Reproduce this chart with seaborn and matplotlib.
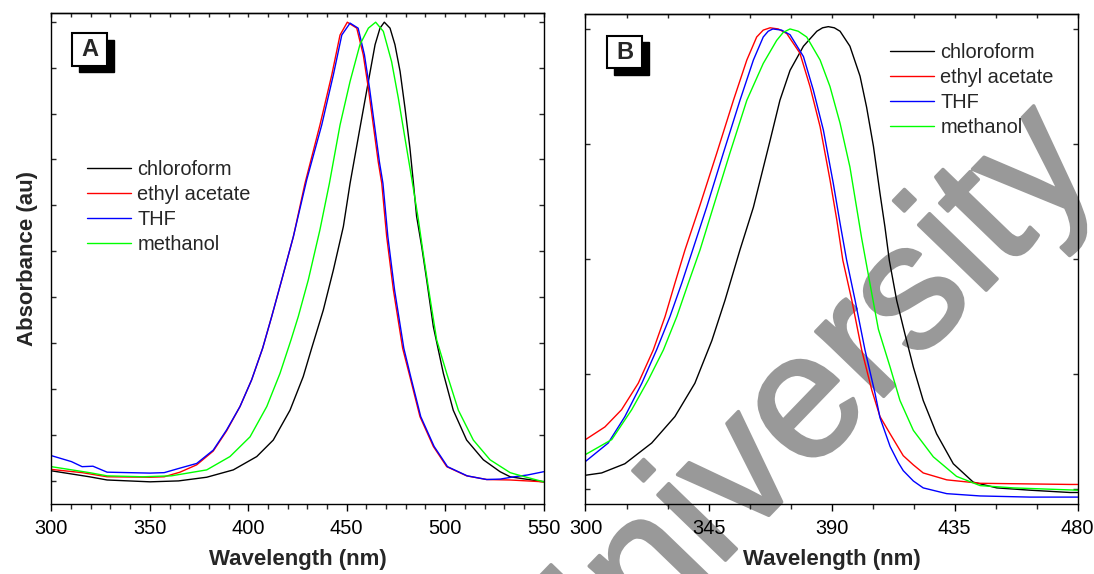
import matplotlib
matplotlib.use("Agg")
import numpy as np
import pandas as pd
import seaborn as sns
import matplotlib.pyplot as plt
import matplotlib.patheffects as pe
from matplotlib.lines import Line2D
from matplotlib.patches import Rectangle
from matplotlib.ticker import MultipleLocator

# ---------------- data ----------------
solvents = ["chloroform", "ethyl acetate", "THF", "methanol"]
colors = ["#000000", "#ff0000", "#0000ff", "#00ff00"]

# Panel A
a_chloroform_wl = [300, 319.3, 328.3, 350.1, 364.6, 378.9, 392.4, 404.3, 412.7, 421.2, 427.9, 432.2, 438.1, 443.2,
                   448.3, 451.7, 456.7, 461.0, 464.4, 466.9, 469.1, 472.0, 474.5, 477.1, 479.6, 482.1, 483.8, 485.5,
                   488.1, 490.6, 494.0, 499.1, 504.1, 510.9, 519.4, 527.9, 533.0, 550]
a_chloroform = [0.122, 0.109, 0.102, 0.098, 0.100, 0.108, 0.124, 0.153, 0.189, 0.254, 0.327, 0.389, 0.472, 0.559,
                0.654, 0.748, 0.868, 0.970, 1.050, 1.086, 1.099, 1.086, 1.050, 0.992, 0.912, 0.825, 0.752, 0.676,
                0.610, 0.538, 0.436, 0.334, 0.254, 0.189, 0.146, 0.120, 0.109, 0.098]

a_ethyl_wl = [300, 315.6, 328.3, 350.1, 357.3, 365.3, 373.8, 382.2, 389.0, 395.8, 401.7, 407.3, 411.9, 417.0, 422.9,
              428.8, 436.4, 442.4, 446.6, 450.3, 455.1, 458.4, 461.0, 463.5, 466.0, 467.8, 470.3, 473.7, 478.4, 482.1,
              487.2, 494.0, 500.8, 510.9, 521.1, 533.0, 550]
a_ethyl = [0.125, 0.118, 0.109, 0.108, 0.109, 0.119, 0.135, 0.165, 0.209, 0.262, 0.320, 0.389, 0.458, 0.538, 0.632,
           0.748, 0.875, 0.984, 1.071, 1.099, 1.086, 1.028, 0.955, 0.875, 0.795, 0.748, 0.632, 0.516, 0.389, 0.327,
           0.240, 0.175, 0.131, 0.111, 0.103, 0.102, 0.098]

a_thf_wl = [300, 310.2, 315.6, 321.1, 328.3, 350.1, 357.3, 364.6, 373.8, 382.2, 389.0, 395.8, 401.7, 407.3, 411.9,
            417.0, 422.9, 429.7, 437.3, 443.2, 447.5, 451.7, 455.8, 459.0, 461.6, 464.1, 466.6, 468.4, 470.9, 474.3,
            479.0, 482.5, 487.6, 494.4, 501.2, 511.2, 521.1, 528.0, 535.1, 542.0, 550]
a_thf = [0.155, 0.142, 0.131, 0.132, 0.119, 0.117, 0.118, 0.127, 0.138, 0.167, 0.211, 0.262, 0.320, 0.389, 0.458,
         0.538, 0.632, 0.756, 0.875, 0.984, 1.071, 1.097, 1.086, 1.028, 0.955, 0.875, 0.795, 0.748, 0.632, 0.516,
         0.389, 0.327, 0.240, 0.175, 0.131, 0.111, 0.103, 0.104, 0.109, 0.113, 0.120]

a_methanol_wl = [300, 319.3, 328.3, 346.5, 360.9, 378.9, 390.7, 400.9, 409.4, 416.1, 421.7, 425.4, 430.5, 436.4,
                 441.2, 446.6, 451.7, 456.7, 461.0, 464.7, 468.6, 472.8, 476.2, 479.6, 483.0, 486.4, 488.6, 491.4,
                 495.7, 500.8, 506.7, 514.3, 522.8, 533.0, 537.0, 550]
a_methanol = [0.131, 0.118, 0.111, 0.109, 0.111, 0.124, 0.153, 0.196, 0.262, 0.334, 0.407, 0.458, 0.538, 0.647,
              0.748, 0.875, 0.970, 1.050, 1.086, 1.099, 1.079, 1.013, 0.934, 0.846, 0.759, 0.669, 0.603, 0.523,
              0.407, 0.334, 0.254, 0.189, 0.146, 0.118, 0.113, 0.098]

# Panel B
b_chloroform_wl = [300, 305.9, 314.4, 324.2, 332.7, 340.0, 346.2, 351.0, 356.5, 361.4, 367.5, 371.1, 374.8, 379.7,
                   384.6, 386.7, 388.8, 391.0, 393.1, 396.7, 400.4, 402.8, 405.3, 407.7, 409.5, 411.1, 413.8, 416.8,
                   419.9, 423.5, 428.4, 434.5, 441.8, 450.4, 462.6, 477.2, 480]
b_chloroform = [0.112, 0.114, 0.122, 0.140, 0.163, 0.192, 0.229, 0.264, 0.308, 0.345, 0.403, 0.438, 0.464, 0.485,
                0.498, 0.501, 0.502, 0.501, 0.498, 0.485, 0.459, 0.432, 0.398, 0.357, 0.328, 0.299, 0.264, 0.235,
                0.206, 0.177, 0.148, 0.122, 0.106, 0.101, 0.099, 0.097, 0.097]

b_ethyl_wl = [300, 307.1, 313.2, 319.3, 324.8, 329.1, 332.7, 336.4, 341.9, 348.0, 354.1, 359.0, 362.6, 365.0, 367.5,
              370.5, 373.6, 378.4, 382.1, 385.8, 389.4, 391.9, 394.1, 397.4, 401.0, 404.7, 407.7, 411.4, 416.2, 419.9,
              423.5, 432.1, 444.3, 477.2, 480]
b_ethyl = [0.143, 0.154, 0.169, 0.192, 0.221, 0.250, 0.279, 0.308, 0.347, 0.392, 0.438, 0.473, 0.493, 0.499, 0.501,
           0.500, 0.496, 0.479, 0.450, 0.415, 0.369, 0.334, 0.299, 0.264, 0.221, 0.186, 0.163, 0.148, 0.129, 0.121,
           0.114, 0.108, 0.105, 0.104, 0.104]

b_thf_wl = [300, 308.3, 314.4, 320.6, 326.0, 330.9, 335.2, 338.8, 344.3, 350.4, 356.5, 361.4, 365.0, 366.8, 368.5,
            371.7, 374.8, 379.7, 383.3, 387.0, 390.6, 393.1, 395.5, 398.6, 402.2, 405.9, 407.7, 411.4, 414.4, 416.2,
            419.9, 423.5, 432.1, 444.3, 462.6, 480]
b_thf = [0.124, 0.140, 0.163, 0.192, 0.221, 0.250, 0.279, 0.305, 0.345, 0.392, 0.438, 0.473, 0.493, 0.498, 0.500,
         0.499, 0.495, 0.476, 0.447, 0.412, 0.366, 0.331, 0.299, 0.264, 0.221, 0.183, 0.162, 0.137, 0.123, 0.116,
         0.107, 0.101, 0.096, 0.094, 0.093, 0.093]

b_methanol_wl = [300, 309.6, 316.9, 323.0, 328.5, 333.4, 337.6, 341.9, 346.7, 352.8, 359.0, 365.0, 369.9, 372.3,
                 374.8, 377.8, 380.9, 385.8, 389.4, 393.1, 396.7, 401.0, 404.0, 407.1, 411.4, 415.0, 419.9, 427.2,
                 435.7, 444.3, 456.5, 480]
b_methanol = [0.130, 0.143, 0.169, 0.195, 0.221, 0.250, 0.279, 0.308, 0.345, 0.392, 0.438, 0.470, 0.490, 0.497,
              0.500, 0.498, 0.493, 0.473, 0.450, 0.418, 0.380, 0.318, 0.279, 0.239, 0.206, 0.177, 0.151, 0.128,
              0.111, 0.103, 0.101, 0.099]

xticks_a = [300, 350, 400, 450, 500, 550]
xticks_b = [300, 345, 390, 435, 480]


def long_frame(wls, vals):
    parts = []
    for name, w, v in zip(solvents, wls, vals):
        parts.append(pd.DataFrame({"wl": w, "abs": v, "solvent": name}))
    return pd.concat(parts, ignore_index=True)


df_a = long_frame([a_chloroform_wl, a_ethyl_wl, a_thf_wl, a_methanol_wl],
                  [a_chloroform, a_ethyl, a_thf, a_methanol])
df_b = long_frame([b_chloroform_wl, b_ethyl_wl, b_thf_wl, b_methanol_wl],
                  [b_chloroform, b_ethyl, b_thf, b_methanol])

# ---------------- style ----------------
sns.set_theme(style="white")
plt.rcParams["font.family"] = ["Liberation Sans", "DejaVu Sans"]
plt.rcParams["axes.linewidth"] = 1.0

palette = dict(zip(solvents, colors))

fig = plt.figure(figsize=(10.94, 5.74), dpi=100)
fig.patch.set_facecolor("white")
axA = fig.add_axes([0.04698, 0.12195, 0.44991, 0.85540])
axB = fig.add_axes([0.53519, 0.12195, 0.44991, 0.85366])

for ax, df in ((axA, df_a), (axB, df_b)):
    ax.set_facecolor("none")
    sns.lineplot(data=df, x="wl", y="abs", hue="solvent", hue_order=solvents, palette=palette,
                 estimator=None, sort=False, linewidth=1.0, legend=False, ax=ax)
    for sp in ax.spines.values():
        sp.set_color("black")
        sp.set_linewidth(1.0)

# axis A
axA.set_xlim(300, 550)
axA.set_ylim(0.0497, 1.119)
axA.set_xticks(xticks_a)
axA.xaxis.set_minor_locator(MultipleLocator(10))
axA.yaxis.set_major_locator(MultipleLocator(0.1))

# axis B
axB.set_xlim(300, 480)
axB.set_ylim(0.087, 0.513)
axB.set_xticks(xticks_b)
axB.xaxis.set_minor_locator(MultipleLocator(15))
axB.yaxis.set_major_locator(MultipleLocator(0.1))

for ax in (axA, axB):
    ax.tick_params(axis="x", which="major", direction="out", length=5, width=1.0, bottom=True, top=False,
                   labelsize=14.4, pad=6, colors="black")
    ax.tick_params(axis="x", which="minor", direction="out", length=3.5, width=1.0, bottom=True, top=False)
    ax.tick_params(axis="y", which="major", direction="in", length=3.5, width=1.0, left=True, right=True,
                   labelleft=False, labelright=False)
    sec = ax.secondary_xaxis("top")
    sec.set_xticks(ax.get_xticks())
    sec.xaxis.set_minor_locator(ax.xaxis.get_minor_locator())
    sec.tick_params(axis="x", which="both", direction="in", length=3, width=1.0, labeltop=False)
    sec.spines["top"].set_linewidth(1.0)
    ax.set_xlabel("Wavelength (nm)", fontsize=16, fontweight="bold", labelpad=8)
    ax.set_ylabel("")

axA.set_ylabel("Absorbance (au)", fontsize=16, fontweight="bold", labelpad=10)

# legends
handles = [Line2D([], [], color=c, lw=1.0) for c in colors]
axA.legend(handles, solvents, loc="upper left", bbox_to_anchor=(0.0733, 0.6996), frameon=False,
           borderpad=0, borderaxespad=0, handlelength=2.2, handletextpad=0.3, labelspacing=0.295, fontsize=14.4)
axB.legend(handles, solvents, loc="upper left", bbox_to_anchor=(0.6195, 0.9398), frameon=False,
           borderpad=0, borderaxespad=0, handlelength=2.2, handletextpad=0.3, labelspacing=0.295, fontsize=14.4)

# panel label boxes with shadow
for ax, letter, x0, ytop, hpx in ((axA, "A", 21 / 492.2, 1 - 20 / 491, 491), (axB, "B", 22 / 492.2, 1 - 22 / 490, 490)):
    w = 35 / 492.2
    h = 32.5 / hpx
    dx = 6.5 / 492.2
    dy = 6.5 / hpx
    ax.add_patch(Rectangle((x0 + dx, ytop - h - dy), w, h, transform=ax.transAxes, facecolor="black",
                           edgecolor="black", lw=1.0, zorder=5, clip_on=False))
    ax.add_patch(Rectangle((x0, ytop - h), w, h, transform=ax.transAxes, facecolor="white",
                           edgecolor="black", lw=1.5, zorder=6, clip_on=False))
    ax.text(x0 + w / 2, ytop - h / 2, letter, transform=ax.transAxes, ha="center", va="center",
            fontsize=17, fontweight="bold", zorder=7)

# watermark
fig.text(0.5113, -0.2756, "University", rotation=46, rotation_mode="anchor", ha="left", va="baseline",
         fontsize=128, color="#999999", zorder=-1,
         path_effects=[pe.withStroke(linewidth=2.5, foreground="#999999")])

fig.savefig("out.png", dpi=100)
